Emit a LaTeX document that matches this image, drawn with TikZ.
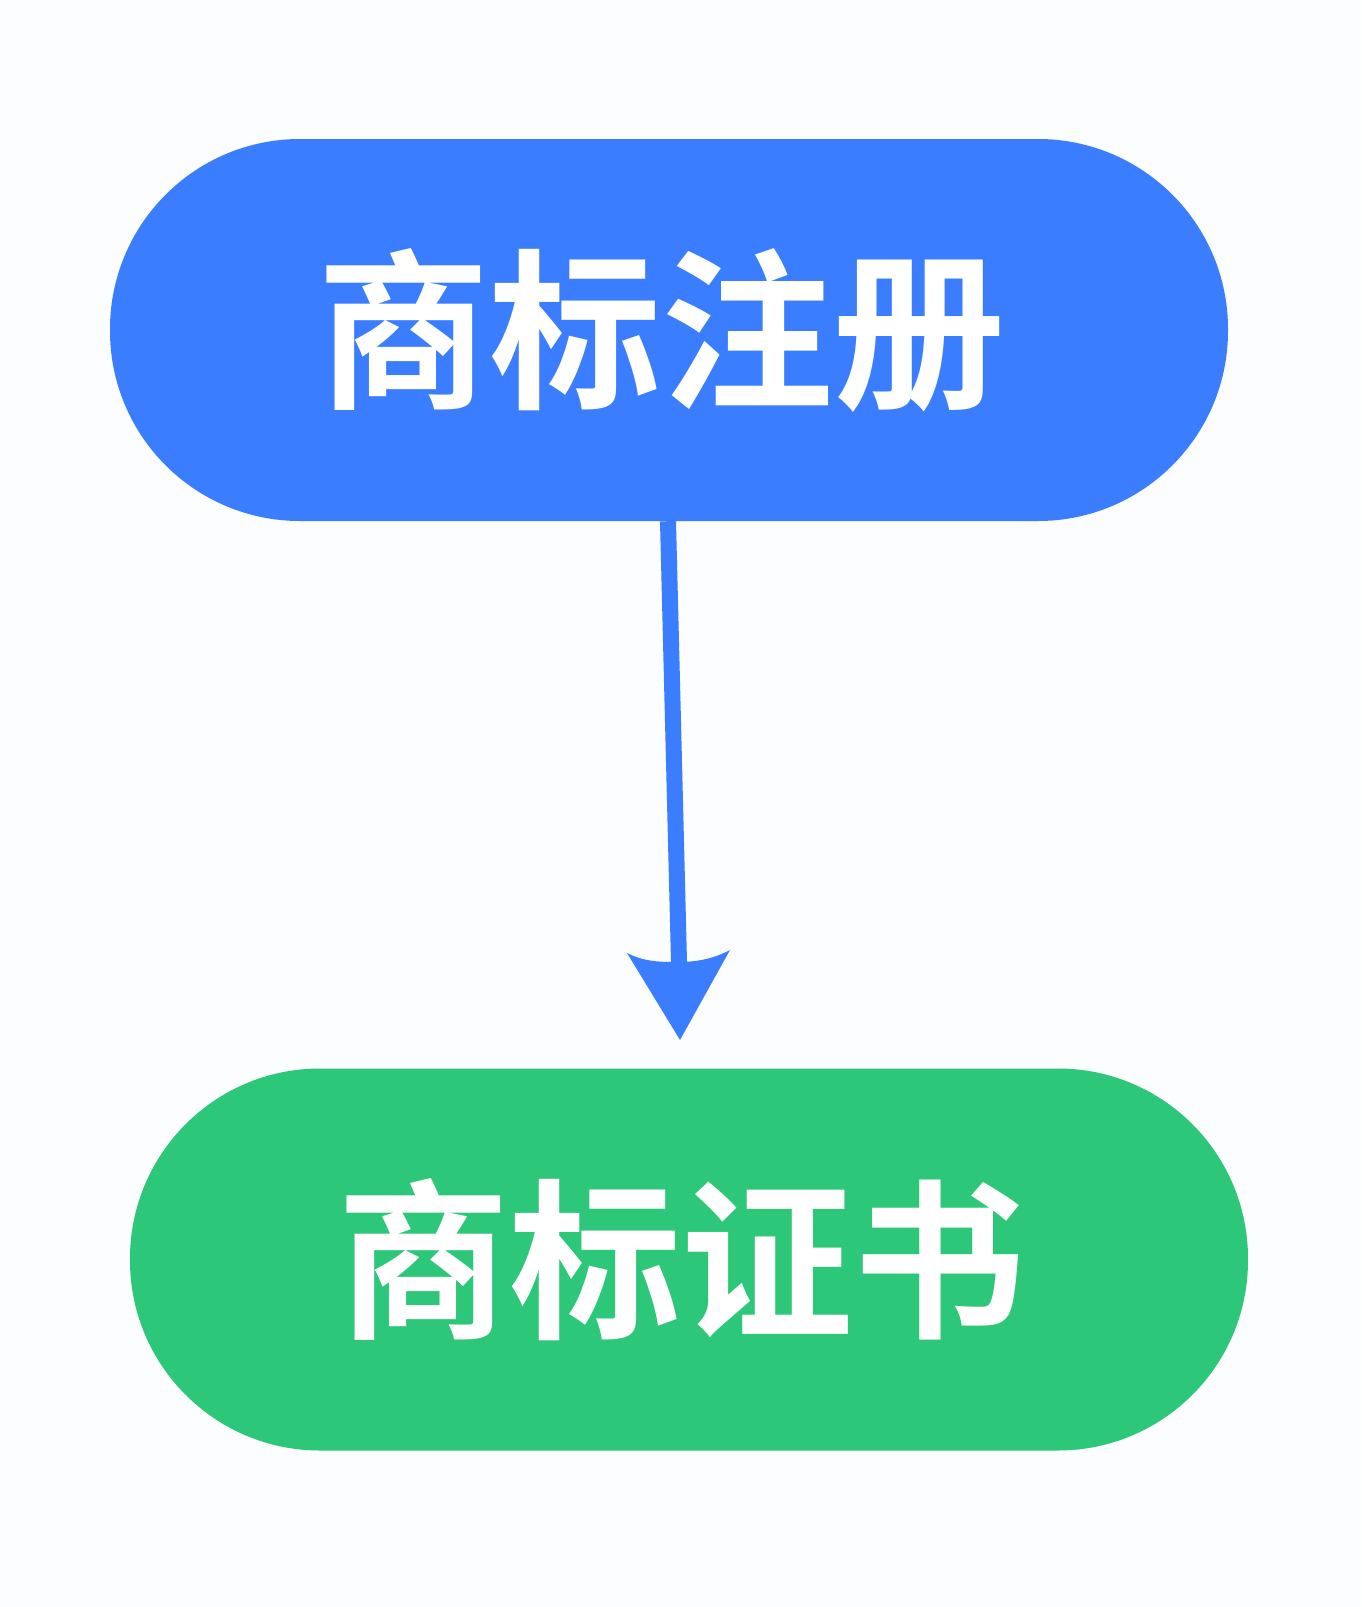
\documentclass[tikz,border=0pt]{standalone}
\usepackage{fontspec}
\newfontfamily\cjk[BoldFont=* Bold]{Noto Sans CJK SC}
\usetikzlibrary{calc}
\definecolor{topblue}{RGB}{59,125,255}
\definecolor{botgreen}{RGB}{44,199,120}
\definecolor{bgc}{RGB}{252,253,254}
\tikzset{
  pill/.style={rectangle, rounded corners=190pt, minimum width=1118pt, minimum height=382pt, inner sep=0pt},
  pilltext/.style={text=white, font=\cjk\bfseries\fontsize{172pt}{172pt}\selectfont, inner sep=0pt},
  shaft/.style={draw=topblue, line width=16pt},
  headfill/.style={fill=topblue}
}
\begin{document}
\begin{tikzpicture}[x=1pt,y=-1pt]
\fill[bgc] (0,0) rectangle (1361,1607);
\useasboundingbox (0,0) rectangle (1361,1607);
\node[pill, fill=topblue] (reg) at (669,330) {};
\node[pilltext] (regt) at (661,330) {商标注册};
\node[pill, fill=botgreen] (cert) at (689,1259.5) {};
\node[pilltext] (certt) at (681,1259.5) {商标证书};
\coordinate (tip) at (680,1040);
\coordinate (headback) at (679,962);
\draw[shaft] (reg.south -| 668,0) -- (headback);
\fill[headfill] (tip) -- ++(-53,-87) .. controls ++(18,9) and ++(-19,0) .. (headback)
  .. controls ++(19,0) and ++(-15,8) .. ($(tip)+(50,-90)$) -- cycle;
\end{tikzpicture}
\end{document}
